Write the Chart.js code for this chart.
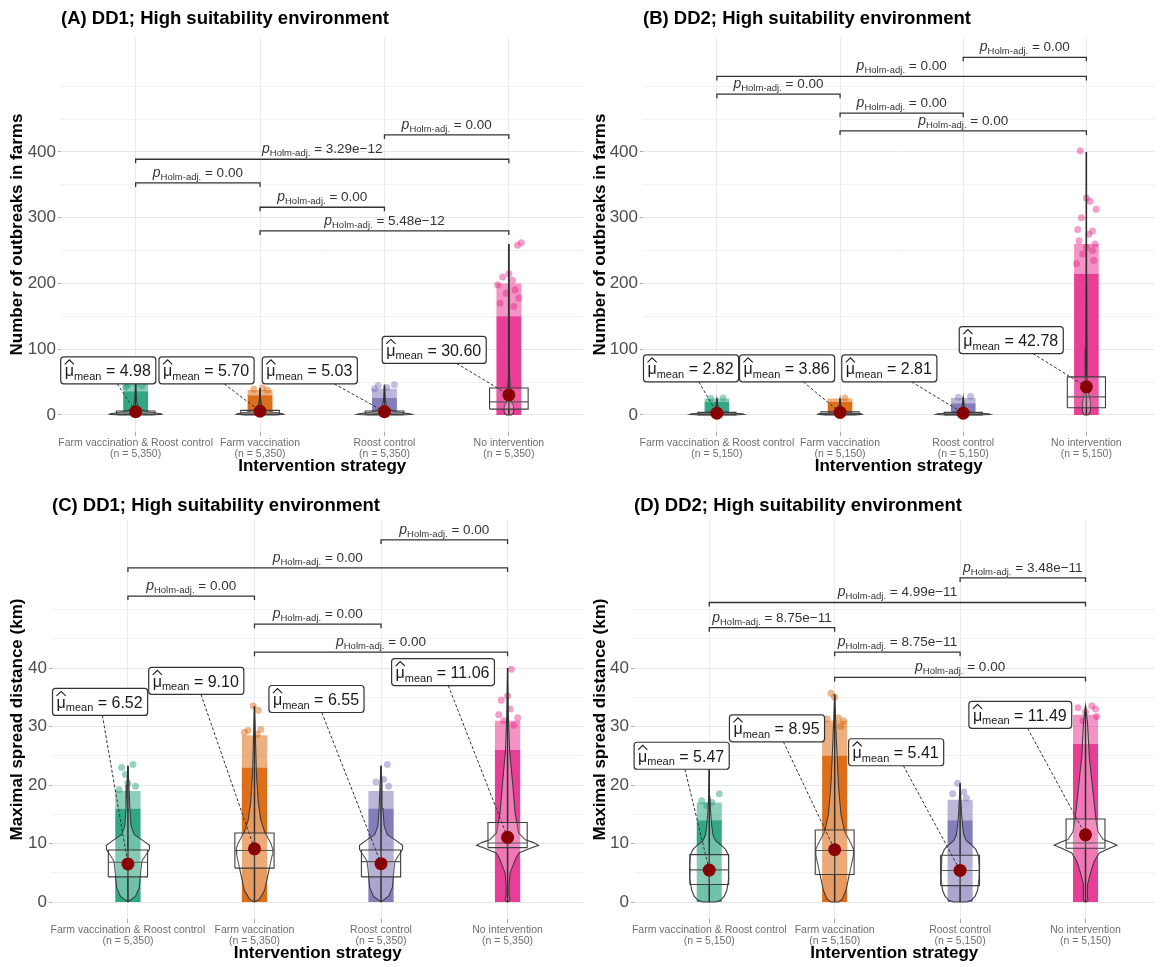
<!DOCTYPE html>
<html><head><meta charset="utf-8">
<script src="https://cdn.jsdelivr.net/npm/chart.js@4.4.1/dist/chart.umd.min.js"></script>
<style>
html,body{margin:0;padding:0;background:#fff;}
body{width:1161px;height:967px;position:relative;overflow:hidden;}
canvas{position:absolute;}
</style></head><body>
<canvas id="cA" width="590" height="485" style="left:0;top:0"></canvas>
<canvas id="cB" width="576" height="485" style="left:585px;top:0"></canvas>
<canvas id="cC" width="590" height="484" style="left:0;top:483px"></canvas>
<canvas id="cD" width="576" height="484" style="left:585px;top:483px"></canvas>
<script>
const FONT = '"Liberation Sans", Arial, Helvetica, sans-serif';

// ---------- shared ----------
const categories = ["Farm vaccination & Roost control", "Farm vaccination", "Roost control", "No intervention"];
const nDD1 = ["(n = 5,350)", "(n = 5,350)", "(n = 5,350)", "(n = 5,350)"];
const nDD2 = ["(n = 5,150)", "(n = 5,150)", "(n = 5,150)", "(n = 5,150)"];
const groupColors = ["27,158,119", "217,95,2", "117,112,179", "231,41,138"];
const yGridOutbreaks = [0, 50, 100, 150, 200, 250, 300, 350, 400, 450, 500];
const yLabelsOutbreaks = [0, 100, 200, 300, 400];
const yGridDistance = [0, 5, 10, 15, 20, 25, 30, 35, 40, 45, 50];
const yLabelsDistance = [0, 10, 20, 30, 40];

// ---------- Panel A: DD1 outbreaks ----------
const meanA = [4.98, 5.70, 5.03, 30.60];
const q1A = [1, 1, 1, 9];
const medianA = [3, 3, 3, 20];
const q3A = [6, 7, 6, 41];
const whiskerTopA = [50, 41, 46, 260];
const denseTopA = [36, 30, 26, 150];
const sparseTopA = [46, 38, 40, 200];
const outliersA = [
  [[0.08, 50], [0.0, 48], [-0.06, 46], [0.05, 44], [-0.08, 43]],
  [[0.02, 41], [-0.05, 39], [0.06, 38]],
  [[0.08, 46], [-0.05, 45], [0.02, 42], [-0.08, 40]],
  [[0.1, 262], [0.07, 258], [0.0, 215], [-0.05, 210], [0.03, 205], [-0.09, 198], [0.05, 190], [-0.02, 185], [0.08, 178], [-0.07, 170], [0.04, 165]]
];
const violinYA = [
  [0, 1, 2, 4, 7, 10, 15, 25, 50],
  [0, 1, 2, 4, 7, 10, 15, 25, 41],
  [0, 1, 2, 4, 7, 10, 15, 25, 46],
  [0, 3, 8, 14, 20, 30, 60, 120, 260]
];
const violinWA = [
  [0.13, 0.21, 0.2, 0.12, 0.06, 0.03, 0.015, 0.006, 0],
  [0.12, 0.19, 0.18, 0.11, 0.05, 0.025, 0.012, 0.005, 0],
  [0.13, 0.22, 0.2, 0.12, 0.06, 0.03, 0.015, 0.006, 0],
  [0.02, 0.035, 0.04, 0.035, 0.02, 0.012, 0.006, 0.003, 0]
];
const bracketFromA = [3, 1, 1, 2, 2];
const bracketToA = [4, 4, 2, 3, 4];
const bracketYA = [426, 389, 353, 316, 280];
const bracketPA = ["0.00", "3.29e\u221212", "0.00", "0.00", "5.48e\u221212"];

// ---------- Panel B: DD2 outbreaks ----------
const meanB = [2.82, 3.86, 2.81, 42.78];
const q1B = [0.5, 1, 0.5, 11];
const medianB = [2, 2.5, 2, 27.5];
const q3B = [4, 5, 4, 58];
const whiskerTopB = [25, 25, 27, 400];
const denseTopB = [20, 20, 18, 215];
const sparseTopB = [25, 25, 26, 260];
const outliersB = [
  [[0.05, 26], [-0.05, 25]],
  [[0.04, 26]],
  [[0.06, 28], [-0.04, 27]],
  [[-0.05, 402], [0.0, 330], [0.03, 325], [0.08, 313], [-0.04, 300], [-0.07, 282], [0.05, 280], [0.02, 275], [-0.06, 265], [0.07, 260], [0.0, 255], [0.05, 250], [-0.03, 245], [0.06, 235], [-0.08, 230]]
];
const violinYB = [
  [0, 1, 2, 3, 5, 8, 12, 25],
  [0, 1, 2, 3, 5, 8, 12, 25],
  [0, 1, 2, 3, 5, 8, 12, 27],
  [0, 5, 12, 20, 30, 50, 100, 200, 400]
];
const violinWB = [
  [0.14, 0.22, 0.2, 0.12, 0.05, 0.02, 0.01, 0],
  [0.12, 0.18, 0.17, 0.1, 0.045, 0.02, 0.01, 0],
  [0.14, 0.22, 0.2, 0.12, 0.05, 0.02, 0.01, 0],
  [0.015, 0.03, 0.035, 0.03, 0.02, 0.01, 0.005, 0.002, 0]
];
const bracketFromB = [3, 1, 1, 2, 2];
const bracketToB = [4, 4, 2, 3, 4];
const bracketYB = [544, 515, 488, 459, 432];
const bracketPB = ["0.00", "0.00", "0.00", "0.00", "0.00"];

// ---------- Panel C: DD1 spread distance ----------
const meanC = [6.52, 9.10, 6.55, 11.06];
const q1C = [4.3, 5.8, 4.3, 9.3];
const medianC = [6.8, 8.8, 6.9, 10.1];
const q3C = [8.9, 11.8, 8.9, 13.6];
const whiskerTopC = [23.3, 33.5, 23.3, 40];
const denseTopC = [16, 23, 16, 26];
const sparseTopC = [19, 28.5, 19, 31];
const outliersC = [
  [[0.04, 23.5], [-0.05, 23], [-0.02, 21.8], [0.0, 20.3], [0.06, 19.8], [-0.07, 19.2]],
  [[-0.01, 33.5], [0.03, 32.8], [0.05, 29.5], [-0.08, 29], [0.02, 28.7], [-0.05, 29.3]],
  [[0.05, 23.5], [0.02, 21], [-0.04, 20.5], [0.06, 19.8]],
  [[0.03, 39.8], [0.0, 35.2], [-0.05, 34.5], [0.02, 33], [-0.07, 32], [0.08, 31.5], [-0.03, 31], [0.05, 30.2]]
];
const violinYC = [
  [0, 1, 2.5, 5, 7, 8, 9, 9.7, 10.5, 11.5, 13, 16, 20, 23.3],
  [0, 0.5, 2, 4, 6, 8, 9, 10, 12, 14, 17, 22, 28, 33.5],
  [0, 1, 2.5, 5, 7, 8, 9, 9.7, 10.5, 11.5, 13, 16, 20, 23.3],
  [0, 0.4, 1, 3, 5, 6.1, 7.5, 8.4, 9.2, 9.7, 10.2, 10.65, 11.8, 15.2, 20.3, 26, 32, 40]
];
const violinWC = [
  [0, 0.06, 0.09, 0.1, 0.11, 0.14, 0.17, 0.17, 0.12, 0.05, 0.025, 0.015, 0.008, 0],
  [0, 0.04, 0.08, 0.1, 0.12, 0.14, 0.145, 0.13, 0.08, 0.05, 0.03, 0.015, 0.008, 0],
  [0, 0.06, 0.09, 0.1, 0.11, 0.14, 0.17, 0.17, 0.12, 0.05, 0.025, 0.015, 0.008, 0],
  [0.005, 0.02, 0.012, 0.012, 0.02, 0.04, 0.065, 0.09, 0.18, 0.245, 0.2, 0.14, 0.087, 0.06, 0.04, 0.016, 0.006, 0]
];
const bracketFromC = [3, 1, 1, 2, 2];
const bracketToC = [4, 4, 2, 3, 4];
const bracketYC = [61.9, 57.1, 52.3, 47.5, 42.7];
const bracketPC = ["0.00", "0.00", "0.00", "0.00", "0.00"];

// ---------- Panel D: DD2 spread distance ----------
const meanD = [5.47, 8.95, 5.41, 11.49];
const q1D = [3.0, 4.7, 2.8, 9.2];
const medianD = [5.5, 8.8, 5.4, 10.1];
const q3D = [8.1, 12.3, 8.0, 14.2];
const whiskerTopD = [23, 35.5, 20.3, 33.5];
const denseTopD = [14, 25, 14, 27];
const sparseTopD = [17, 31, 17.5, 32];
const outliersD = [
  [[0.08, 18.5], [-0.06, 17.3], [0.02, 17], [-0.02, 16.5]],
  [[-0.03, 35.7], [0.0, 35], [0.03, 31.5], [0.07, 31], [-0.06, 31.3], [0.05, 30]],
  [[-0.02, 20.3], [0.03, 18.8], [-0.06, 18.5], [0.05, 17.8]],
  [[0.05, 33.5], [0.08, 33], [-0.06, 33.2], [0.0, 32.5], [0.09, 31.7], [-0.02, 31]]
];
const violinYD = [
  [0, 0.3, 1, 2, 4, 6, 8, 9, 9.8, 10.5, 11.5, 13, 15, 18, 23],
  [0, 0.5, 2, 4, 6, 8, 9, 10, 12, 15, 20, 27, 35.5],
  [0, 0.3, 1, 2, 4, 6, 8, 9, 9.8, 10.5, 11.5, 13, 15, 20.3],
  [0, 0.4, 1, 3, 5, 7, 8.4, 9.2, 9.7, 10.2, 10.7, 12, 14, 19.2, 24.9, 30.6, 33.5]
];
const violinWD = [
  [0.05, 0.09, 0.12, 0.14, 0.155, 0.157, 0.15, 0.13, 0.09, 0.05, 0.03, 0.02, 0.012, 0.005, 0],
  [0.03, 0.06, 0.09, 0.11, 0.13, 0.15, 0.15, 0.13, 0.08, 0.05, 0.03, 0.015, 0],
  [0.05, 0.09, 0.12, 0.14, 0.15, 0.152, 0.145, 0.125, 0.09, 0.05, 0.03, 0.02, 0.012, 0],
  [0.005, 0.02, 0.014, 0.016, 0.04, 0.07, 0.11, 0.19, 0.25, 0.2, 0.14, 0.1, 0.084, 0.058, 0.03, 0.016, 0]
];
const bracketFromD = [3, 1, 1, 2, 2];
const bracketToD = [4, 4, 2, 3, 4];
const bracketYD = [55.4, 51.2, 46.9, 42.7, 38.4];
const bracketPD = ["3.48e\u221211", "4.99e\u221211", "8.75e\u221211", "8.75e\u221211", "0.00"];

// ---------- layout (positions of annotation boxes, in axis units) ----------
const layoutA = { area: {left: 61, right: 585, top: 37, bottom: 432}, x: [0.4, 4.6], y: [-25.86, 574.9], titleY: 19, yTitlePad: 7, xTitlePad: 8,
  labelX: [0.78, 1.57, 2.40, 3.40], labelY: [68, 68, 68, 99] };
const layoutB = { area: {left: 58, right: 576, top: 37, bottom: 432}, x: [0.4, 4.553], y: [-25.86, 574.9], titleY: 19, yTitlePad: 5, xTitlePad: 8,
  labelX: [0.79, 1.57, 2.40, 3.39], labelY: [71, 71, 71, 114] };
const layoutC = { area: {left: 52, right: 585, top: 37, bottom: 436}, x: [0.4, 4.6], y: [-2.9, 65.3], titleY: 23, yTitlePad: 7, xTitlePad: 3,
  labelX: [0.78, 1.54, 2.49, 3.49], labelY: [34.2, 37.8, 34.7, 39.3] };
const layoutD = { area: {left: 49, right: 576, top: 37, bottom: 436}, x: [0.4, 4.55], y: [-2.9, 65.3], titleY: 23, yTitlePad: 5, xTitlePad: 3,
  labelX: [0.78, 1.54, 2.49, 3.48], labelY: [25, 29.7, 25.6, 32] };

const CLOUD_HW = 0.1, BOX_HW = 0.155;

function polyDataset(points, opts) {
  return Object.assign({
    type: 'scatter', data: points, showLine: true, pointRadius: 0, pointHoverRadius: 0,
    borderWidth: 0, borderColor: 'rgba(0,0,0,0)', backgroundColor: 'rgba(0,0,0,0)', fill: false, tension: 0
  }, opts);
}
function rectPts(xc, hw, y0, y1) {
  return [{x: xc - hw, y: y0}, {x: xc + hw, y: y0}, {x: xc + hw, y: y1}, {x: xc - hw, y: y1}, {x: xc - hw, y: y0}];
}

function buildDatasets(s) {
  const ds = [];
  for (let g = 0; g < 4; g++) {
    const xc = g + 1, col = groupColors[g];
    // jitter cloud: dense core and sparse fringe
    ds.push(polyDataset(rectPts(xc, CLOUD_HW, 0, s.denseTop[g]), {fill: 'shape', backgroundColor: `rgba(${col},0.9)`, order: 9}));
    ds.push(polyDataset(rectPts(xc, CLOUD_HW, s.denseTop[g], s.sparseTop[g]), {fill: 'shape', backgroundColor: `rgba(${col},0.5)`, order: 9}));
    ds.push({type: 'scatter', data: s.outliers[g].map(([dx, y]) => ({x: xc + dx, y})), pointRadius: 3.5, pointHoverRadius: 3.5,
      backgroundColor: `rgba(${col},0.45)`, borderWidth: 0, order: 8});
    // violin outline
    const vy = s.violinY[g], vw = s.violinW[g];
    const right = vy.map((y, i) => ({x: xc + vw[i], y}));
    const left = vy.map((y, i) => ({x: xc - vw[i], y})).reverse();
    const vpts = right.concat(left); vpts.push(right[0]);
    ds.push(polyDataset(vpts, {fill: 'shape', backgroundColor: 'rgba(255,255,255,0.3)', borderColor: '#3d3d3d', borderWidth: 1.1, order: 6}));
    // whisker
    ds.push(polyDataset([{x: xc, y: 0}, {x: xc, y: s.whiskerTop[g]}], {borderColor: '#2e2e2e', borderWidth: 1.5, order: 5}));
    // box
    ds.push(polyDataset(rectPts(xc, BOX_HW, s.q1[g], s.q3[g]), {fill: 'shape', backgroundColor: 'rgba(255,255,255,0.15)', borderColor: '#3d3d3d', borderWidth: 1.1, order: 4}));
    ds.push(polyDataset([{x: xc - BOX_HW, y: s.median[g]}, {x: xc + BOX_HW, y: s.median[g]}], {borderColor: '#3d3d3d', borderWidth: 1.1, order: 4}));
  }
  ds.push({type: 'scatter', data: s.mean.map((m, g) => ({x: g + 1, y: m})), pointRadius: 6.5, pointHoverRadius: 6.5,
    backgroundColor: '#8B0000', borderColor: '#8B0000', borderWidth: 0, order: 1});
  return ds;
}

function drawMeanLabel(ctx, cx, cy, px, py, txt) {
  const big = `16px ${FONT}`, sub = `11px ${FONT}`;
  ctx.font = big;
  const wMu = ctx.measureText('\u03bc').width;
  const wRest = ctx.measureText(' = ' + txt).width;
  ctx.font = sub;
  const wSub = ctx.measureText('mean').width;
  const padX = 4, w = wMu + wSub + wRest + 2 * padX + 1, h = 27;
  const x0 = cx - w / 2, y0 = cy - h / 2;
  const dx = px - cx, dy = py - cy;
  const tx = dx !== 0 ? Math.abs((w / 2) / dx) : Infinity;
  const ty = dy !== 0 ? Math.abs((h / 2) / dy) : Infinity;
  const t = Math.min(tx, ty);
  ctx.save();
  ctx.setLineDash([3, 2]);
  ctx.strokeStyle = '#333'; ctx.lineWidth = 1;
  ctx.beginPath(); ctx.moveTo(cx + dx * t, cy + dy * t); ctx.lineTo(px, py); ctx.stroke();
  ctx.restore();
  ctx.save();
  ctx.beginPath();
  if (ctx.roundRect) ctx.roundRect(x0, y0, w, h, 3); else ctx.rect(x0, y0, w, h);
  ctx.fillStyle = '#fff'; ctx.fill();
  ctx.strokeStyle = '#333'; ctx.lineWidth = 1.2; ctx.stroke();
  const base = cy + 6;
  ctx.fillStyle = '#1a1a1a'; ctx.strokeStyle = '#1a1a1a';
  ctx.textAlign = 'left'; ctx.textBaseline = 'alphabetic';
  ctx.font = big; ctx.fillText('\u03bc', x0 + padX, base);
  ctx.beginPath();
  ctx.moveTo(x0 + padX, base - 12); ctx.lineTo(x0 + padX + wMu / 2, base - 16.5); ctx.lineTo(x0 + padX + wMu, base - 12);
  ctx.lineWidth = 1.1; ctx.stroke();
  ctx.font = sub; ctx.fillText('mean', x0 + padX + wMu, base + 3.5);
  ctx.font = big; ctx.fillText(' = ' + txt, x0 + padX + wMu + wSub, base);
  ctx.restore();
}

function drawBracket(ctx, xs, ys, from, to, yv, ptxt) {
  const x1 = xs.getPixelForValue(from), x2 = xs.getPixelForValue(to), y = ys.getPixelForValue(yv);
  ctx.save();
  ctx.strokeStyle = '#333'; ctx.lineWidth = 1.3;
  ctx.beginPath(); ctx.moveTo(x1, y + 4); ctx.lineTo(x1, y); ctx.lineTo(x2, y); ctx.lineTo(x2, y + 4); ctx.stroke();
  const fp = `italic 14px ${FONT}`, fs = `9.5px ${FONT}`, fr = `13.5px ${FONT}`;
  ctx.font = fp; const wp = ctx.measureText('p').width;
  ctx.font = fs; const ws = ctx.measureText('Holm-adj.').width;
  ctx.font = fr; const wr = ctx.measureText(' = ' + ptxt).width;
  let x = (x1 + x2) / 2 - (wp + ws + wr) / 2;
  const base = y - 6;
  ctx.fillStyle = '#333'; ctx.textAlign = 'left'; ctx.textBaseline = 'alphabetic';
  ctx.font = fp; ctx.fillText('p', x, base); x += wp;
  ctx.font = fs; ctx.fillText('Holm-adj.', x, base + 3); x += ws;
  ctx.font = fr; ctx.fillText(' = ' + ptxt, x, base);
  ctx.restore();
}

function makeChart(s) {
  const L = s.layout, cv = document.getElementById(s.id);
  const W = cv.width, H = cv.height;
  const overlay = {
    id: 'overlay_' + s.id,
    afterDatasetsDraw(chart) {
      const ctx = chart.ctx, xs = chart.scales.x, ys = chart.scales.y;
      for (let i = 0; i < s.bFrom.length; i++) drawBracket(ctx, xs, ys, s.bFrom[i], s.bTo[i], s.bY[i], s.bP[i]);
      for (let g = 0; g < 4; g++) {
        drawMeanLabel(ctx, xs.getPixelForValue(L.labelX[g]), ys.getPixelForValue(L.labelY[g]),
          xs.getPixelForValue(g + 1), ys.getPixelForValue(s.mean[g]), s.mean[g].toFixed(2));
      }
    },
    afterDraw(chart) {
      const ctx = chart.ctx;
      ctx.save();
      ctx.font = `bold 18.5px ${FONT}`; ctx.fillStyle = '#000'; ctx.textAlign = 'left'; ctx.textBaseline = 'middle';
      ctx.fillText(s.title, chart.chartArea.left, L.titleY);
      ctx.restore();
    }
  };
  return new Chart(cv, {
    type: 'scatter',
    data: {datasets: buildDatasets(s)},
    plugins: [overlay],
    options: {
      responsive: false, animation: false, events: [],
      layout: {padding: {left: 0, right: W - L.area.right, top: L.area.top, bottom: 0}},
      plugins: {legend: {display: false}, tooltip: {enabled: false}},
      scales: {
        x: {
          type: 'linear', min: L.x[0], max: L.x[1],
          afterBuildTicks: sc => { sc.ticks = [1, 2, 3, 4].map(v => ({value: v})); },
          afterFit: sc => { sc.height = H - L.area.bottom; },
          ticks: {autoSkip: false, maxRotation: 0, padding: 1, color: '#6e6e6e',
            font: {family: FONT, size: 10.5, lineHeight: 1.1},
            callback: v => { const i = Math.round(v) - 1; return [categories[i], s.n[i]]; }},
          grid: {color: '#ebebeb', lineWidth: 1, tickLength: 4, tickColor: '#aaa'},
          border: {display: false},
          title: {display: true, text: 'Intervention strategy', color: '#000',
            font: {family: FONT, size: 17, weight: 'bold'}, padding: {top: 0, bottom: L.xTitlePad}}
        },
        y: {
          type: 'linear', min: L.y[0], max: L.y[1],
          afterBuildTicks: sc => { sc.ticks = s.yGrid.map(v => ({value: v})); },
          afterFit: sc => { sc.width = L.area.left; },
          ticks: {autoSkip: false, padding: 2, color: '#4d4d4d', font: {family: FONT, size: 17},
            callback: v => s.yLabels.includes(v) ? String(v) : ''},
          grid: {lineWidth: 1, tickLength: 3,
            color: c => (c.tick && s.yLabels.includes(c.tick.value)) ? '#e6e6e6' : '#f1f1f1',
            tickColor: c => (c.tick && s.yLabels.includes(c.tick.value)) ? '#aaa' : 'rgba(0,0,0,0)'},
          border: {display: false},
          title: {display: true, text: s.yTitle, color: '#000',
            font: {family: FONT, size: 17, weight: 'bold'}, padding: {top: L.yTitlePad, bottom: 0}}
        }
      }
    }
  });
}

const panels = [
  {id: 'cA', title: '(A) DD1; High suitability environment', yTitle: 'Number of outbreaks in farms', n: nDD1,
   mean: meanA, q1: q1A, median: medianA, q3: q3A, whiskerTop: whiskerTopA, denseTop: denseTopA, sparseTop: sparseTopA,
   outliers: outliersA, violinY: violinYA, violinW: violinWA, bFrom: bracketFromA, bTo: bracketToA, bY: bracketYA, bP: bracketPA,
   yGrid: yGridOutbreaks, yLabels: yLabelsOutbreaks, layout: layoutA},
  {id: 'cB', title: '(B) DD2; High suitability environment', yTitle: 'Number of outbreaks in farms', n: nDD2,
   mean: meanB, q1: q1B, median: medianB, q3: q3B, whiskerTop: whiskerTopB, denseTop: denseTopB, sparseTop: sparseTopB,
   outliers: outliersB, violinY: violinYB, violinW: violinWB, bFrom: bracketFromB, bTo: bracketToB, bY: bracketYB, bP: bracketPB,
   yGrid: yGridOutbreaks, yLabels: yLabelsOutbreaks, layout: layoutB},
  {id: 'cC', title: '(C) DD1; High suitability environment', yTitle: 'Maximal spread distance (km)', n: nDD1,
   mean: meanC, q1: q1C, median: medianC, q3: q3C, whiskerTop: whiskerTopC, denseTop: denseTopC, sparseTop: sparseTopC,
   outliers: outliersC, violinY: violinYC, violinW: violinWC, bFrom: bracketFromC, bTo: bracketToC, bY: bracketYC, bP: bracketPC,
   yGrid: yGridDistance, yLabels: yLabelsDistance, layout: layoutC},
  {id: 'cD', title: '(D) DD2; High suitability environment', yTitle: 'Maximal spread distance (km)', n: nDD2,
   mean: meanD, q1: q1D, median: medianD, q3: q3D, whiskerTop: whiskerTopD, denseTop: denseTopD, sparseTop: sparseTopD,
   outliers: outliersD, violinY: violinYD, violinW: violinWD, bFrom: bracketFromD, bTo: bracketToD, bY: bracketYD, bP: bracketPD,
   yGrid: yGridDistance, yLabels: yLabelsDistance, layout: layoutD}
];
panels.forEach(makeChart);
</script>
</body></html>
